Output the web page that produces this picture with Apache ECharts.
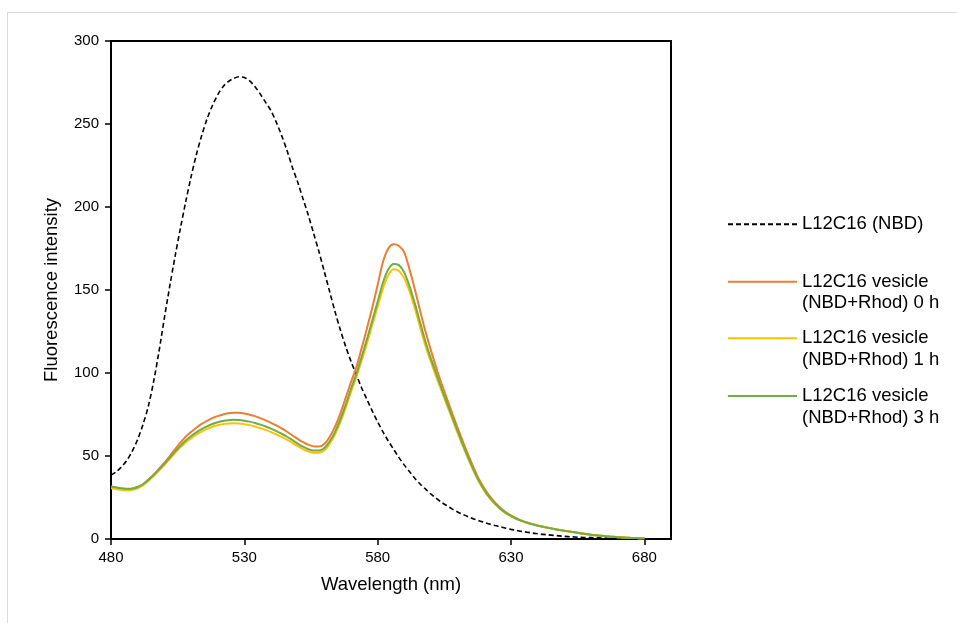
<!DOCTYPE html>
<html>
<head>
<meta charset="utf-8">
<script src="https://cdn.jsdelivr.net/npm/echarts@6/dist/echarts.min.js"></script>
<style>
  html, body { margin: 0; padding: 0; background: #fff; }
  #chart { width: 957px; height: 623px; }
</style>
</head>
<body>
<div id="chart"></div>
<script>
// wavelength (nm), one point every 2 nm
const wavelengths = [
  480, 482, 484, 486, 488, 490, 492, 494, 496, 498,
  500, 502, 504, 506, 508, 510, 512, 514, 516, 518,
  520, 522, 524, 526, 528, 530, 532, 534, 536, 538,
  540, 542, 544, 546, 548, 550, 552, 554, 556, 558,
  560, 562, 564, 566, 568, 570, 572, 574, 576, 578,
  580, 582, 584, 586, 588, 590, 592, 594, 596, 598,
  600, 602, 604, 606, 608, 610, 612, 614, 616, 618,
  620, 622, 624, 626, 628, 630, 632, 634, 636, 638,
  640, 642, 644, 646, 648, 650, 652, 654, 656, 658,
  660, 662, 664, 666, 668, 670, 672, 674, 676, 678,
  680
];

const nbd = [
  38.5, 40.5, 43.6, 47.5, 53, 60, 69, 80, 95, 113,
  133, 152, 170, 187, 203, 218, 231.5, 243, 253, 261,
  267.5, 272.5, 275.5, 277.5, 278.5, 278, 276, 272.5, 268, 263,
  258, 251, 243, 234, 224, 215, 205, 195, 184, 173,
  161, 149, 137, 126, 116, 107, 99, 91, 84, 77,
  70.5, 64.5, 59, 54, 49, 44.5, 40.5, 36.5, 33, 30,
  27, 24.5, 22, 20, 18, 16.3, 14.8, 13.4, 12.1, 11,
  10, 9, 8.1, 7.3, 6.5, 5.8, 5.2, 4.6, 4.1, 3.6,
  3.2, 2.8, 2.5, 2.2, 1.9, 1.6, 1.4, 1.2, 1.0, 0.9,
  0.8, 0.7, 0.6, 0.5, 0.45, 0.4, 0.35, 0.3, 0.25, 0.2,
  0.2
];

const vesicle0h = [
  31.5, 31, 30.4, 30.1, 30.3, 31.3, 33, 35.8, 38.8, 42.3,
  46, 49.8, 54, 58, 61.6, 64.4, 67, 69.3, 71.2, 72.8,
  74, 75, 75.7, 76.1, 76.1, 75.6, 74.9, 74, 72.8, 71.5,
  70, 68.4, 66.6, 64.6, 62.5, 60.3, 58.3, 56.8, 55.8, 55.7,
  57.2, 61.5, 67.7, 75.5, 85, 94.5, 103.5, 115, 127, 139.5,
  153, 167, 175, 177.5, 176.5, 172.5, 162, 150, 137, 124.5,
  113.5, 103, 93.5, 84.5, 75.5, 67, 58.5, 50.5, 43, 36,
  30.5, 25.8, 22, 18.8, 16.2, 14.2, 12.5, 11.1, 10, 9,
  8.2, 7.5, 6.8, 6.2, 5.6, 5, 4.5, 4, 3.5, 3,
  2.6, 2.2, 1.9, 1.6, 1.3, 1.1, 0.9, 0.7, 0.6, 0.5,
  0.4
];

const vesicle1h = [
  30.5, 30, 29.5, 29.3, 29.6, 30.6, 32.3, 35, 37.9, 41.2,
  44.6, 48.2, 51.8, 55.2, 58.2, 60.6, 62.8, 64.7, 66.3, 67.6,
  68.5, 69.2, 69.6, 69.7, 69.6, 69.2, 68.6, 67.8, 66.8, 65.7,
  64.4, 63, 61.5, 59.8, 57.9, 55.9, 54.1, 52.7, 51.9, 51.9,
  53.4, 57.3, 63, 70.3, 79, 88.5, 97.5, 107.5, 118, 129,
  140, 151, 159, 162.5, 161.5, 157, 149, 138.5, 127, 116,
  106.5, 97.5, 89, 80.5, 72, 63.8, 55.6, 48, 40.8, 34.3,
  29, 24.6, 21, 18, 15.6, 13.7, 12.1, 10.8, 9.7, 8.8,
  8, 7.3, 6.6, 6, 5.4, 4.9, 4.4, 3.9, 3.4, 3,
  2.6, 2.2, 1.9, 1.6, 1.3, 1.1, 0.9, 0.7, 0.6, 0.5,
  0.4
];

const vesicle3h = [
  31.7, 31.1, 30.5, 30.2, 30.4, 31.3, 33, 35.6, 38.5, 41.8,
  45.3, 48.9, 52.6, 56.1, 59.3, 61.9, 64.2, 66.2, 67.9, 69.3,
  70.3, 71.1, 71.6, 71.8, 71.7, 71.3, 70.7, 69.9, 68.9, 67.8,
  66.5, 65, 63.4, 61.6, 59.6, 57.5, 55.6, 54.1, 53.3, 53.3,
  54.8, 58.7, 64.5, 72, 80.8, 90.5, 99.5, 109.8, 120.5, 131.7,
  143, 154.5, 162.5, 165.7, 165, 160.5, 152, 141.5, 130, 118.5,
  108.5, 99.5, 90.5, 82, 73.5, 65, 56.8, 49, 41.6, 35,
  29.6, 25, 21.3, 18.3, 15.8, 13.9, 12.2, 10.9, 9.8, 8.8,
  8, 7.3, 6.7, 6.1, 5.5, 5, 4.5, 4, 3.5, 3,
  2.6, 2.2, 1.9, 1.6, 1.3, 1.1, 0.9, 0.7, 0.6, 0.5,
  0.4
];

const xTicks = [480, 530, 580, 630, 680];
const seriesNames = [
  'L12C16 (NBD)',
  'L12C16 vesicle\n(NBD+Rhod) 0 h',
  'L12C16 vesicle\n(NBD+Rhod) 1 h',
  'L12C16 vesicle\n(NBD+Rhod) 3 h'
];
const seriesColors = ['#000000', '#ED7D31', '#FFC000', '#70AD47'];

const font = 'Liberation Sans, Arial, sans-serif';

function pairs(values) {
  return wavelengths.map((w, i) => [w, values[i]]);
}

// one legend per entry; two-line names get a blank first line so that
// the sample line sits level with the first line of text
function legendItem(name, top, twoLines) {
  return {
    data: [name],
    orient: 'vertical',
    left: 727,
    top: top,
    padding: 0,
    itemWidth: 69,
    itemHeight: 14,
    itemGap: 0,
    selectedMode: false,
    itemStyle: { opacity: 0 },
    formatter: twoLines ? (n => ' \n' + n) : (n => n),
    textStyle: {
      fontFamily: font,
      fontSize: 18.5,
      color: '#000',
      lineHeight: 21.5
    }
  };
}

let chart = echarts.init(document.getElementById('chart'));

let option = {
  animation: false,
  backgroundColor: '#fff',
  graphic: [
    {
      type: 'rect',
      shape: { x: 7.5, y: 12.5, width: 980, height: 640 },
      style: { fill: 'none', stroke: '#d9d9d9', lineWidth: 1 },
      silent: true
    }
  ],
  grid: {
    left: 111,
    right: 286,
    top: 41,
    bottom: 84,
    show: true,
    borderColor: '#000',
    borderWidth: 2
  },
  legend: [
    legendItem(seriesNames[0], 213.5, false),
    legendItem(seriesNames[1], 249.5, true),
    legendItem(seriesNames[2], 306, true),
    legendItem(seriesNames[3], 363.75, true)
  ],
  xAxis: {
    type: 'value',
    min: 480,
    max: 690,
    interval: 50,
    name: 'Wavelength (nm)',
    nameLocation: 'middle',
    nameGap: 36,
    nameTextStyle: { fontFamily: font, fontSize: 18.5, color: '#000' },
    axisLine: { lineStyle: { color: '#000', width: 2 } },
    axisTick: { show: true, length: 6, lineStyle: { color: '#000', width: 1.5 }, customValues: xTicks },
    axisLabel: { fontFamily: font, fontSize: 15, color: '#000', margin: 11, customValues: xTicks },
    splitLine: { show: false }
  },
  yAxis: {
    type: 'value',
    min: 0,
    max: 300,
    interval: 50,
    name: 'Fluorescence intensity',
    nameLocation: 'middle',
    nameGap: 50,
    nameTextStyle: { fontFamily: font, fontSize: 18.5, color: '#000' },
    axisLine: { show: true, lineStyle: { color: '#000', width: 2 } },
    axisTick: { show: true, length: 6, lineStyle: { color: '#000', width: 1.5 } },
    axisLabel: { fontFamily: font, fontSize: 15, color: '#000', margin: 12 },
    splitLine: { show: false }
  },
  series: [
    {
      name: seriesNames[0],
      type: 'line',
      data: pairs(nbd),
      symbol: 'none',
      smooth: 0.3,
      lineStyle: { color: seriesColors[0], width: 1.6, type: [5, 3] },
      itemStyle: { color: seriesColors[0] }
    },
    {
      name: seriesNames[1],
      type: 'line',
      data: pairs(vesicle0h),
      symbol: 'none',
      smooth: 0.3,
      lineStyle: { color: seriesColors[1], width: 2 },
      itemStyle: { color: seriesColors[1] }
    },
    {
      name: seriesNames[2],
      type: 'line',
      data: pairs(vesicle1h),
      symbol: 'none',
      smooth: 0.3,
      lineStyle: { color: seriesColors[2], width: 2 },
      itemStyle: { color: seriesColors[2] }
    },
    {
      name: seriesNames[3],
      type: 'line',
      data: pairs(vesicle3h),
      symbol: 'none',
      smooth: 0.3,
      lineStyle: { color: seriesColors[3], width: 2 },
      itemStyle: { color: seriesColors[3] }
    }
  ]
};

chart.setOption(option);
</script>
</body>
</html>
